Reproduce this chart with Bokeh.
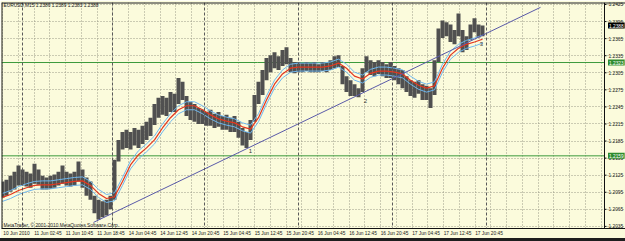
from bokeh.plotting import figure
from bokeh.models import Range1d, FixedTicker, Label, Span, Div
from bokeh.core.properties import value
from bokeh.layouts import column
from bokeh.embed import file_html
from bokeh.resources import INLINE

# ---- data (EURUSD M15, sampled every 4 bars) ----
highs = [1.2114, 1.2117, 1.2124, 1.2131, 1.2142, 1.2135, 1.2131, 1.2128, 1.2145, 1.2135,
         1.2124, 1.2121, 1.2124, 1.2126, 1.2131, 1.2142, 1.2131, 1.2128, 1.2131, 1.2149,
         1.2135, 1.2121, 1.2114, 1.2089, 1.2082, 1.2079, 1.2082, 1.2089, 1.2152, 1.2187,
         1.2201, 1.2205, 1.2201, 1.2208, 1.2205, 1.2212, 1.2219, 1.2226, 1.2250, 1.2261,
         1.2264, 1.2261, 1.2271, 1.2268, 1.2296, 1.2289, 1.2264, 1.2254, 1.2250, 1.2243,
         1.2240, 1.2236, 1.2240, 1.2233, 1.2236, 1.2229, 1.2231, 1.2226, 1.2229, 1.2219,
         1.2208, 1.2201, 1.2222, 1.2266, 1.2289, 1.2310, 1.2331, 1.2336, 1.2341, 1.2334,
         1.2345, 1.2350, 1.2331, 1.2324, 1.2324, 1.2322, 1.2324, 1.2322, 1.2324, 1.2320,
         1.2324, 1.2322, 1.2327, 1.2334, 1.2336, 1.2317, 1.2299, 1.2292, 1.2285, 1.2278,
         1.2313, 1.2334, 1.2327, 1.2324, 1.2327, 1.2324, 1.2320, 1.2324, 1.2317, 1.2313,
         1.2310, 1.2299, 1.2292, 1.2289, 1.2292, 1.2285, 1.2282, 1.2278, 1.2327, 1.2383,
         1.2397, 1.2394, 1.2390, 1.2380, 1.2409, 1.2380, 1.2369, 1.2390, 1.2401, 1.2390,
         1.2388]
lows = [1.2086, 1.2089, 1.2096, 1.2100, 1.2107, 1.2107, 1.2105, 1.2103, 1.2110, 1.2108,
        1.2100, 1.2100, 1.2101, 1.2103, 1.2107, 1.2110, 1.2107, 1.2105, 1.2107, 1.2114,
        1.2103, 1.2089, 1.2082, 1.2058, 1.2047, 1.2051, 1.2054, 1.2065, 1.2082, 1.2149,
        1.2170, 1.2173, 1.2170, 1.2177, 1.2173, 1.2180, 1.2187, 1.2194, 1.2213, 1.2226,
        1.2231, 1.2229, 1.2236, 1.2236, 1.2250, 1.2257, 1.2229, 1.2222, 1.2219, 1.2215,
        1.2215, 1.2212, 1.2212, 1.2208, 1.2210, 1.2205, 1.2205, 1.2201, 1.2201, 1.2191,
        1.2177, 1.2173, 1.2187, 1.2219, 1.2250, 1.2266, 1.2292, 1.2306, 1.2313, 1.2310,
        1.2317, 1.2320, 1.2306, 1.2304, 1.2306, 1.2306, 1.2308, 1.2306, 1.2306, 1.2306,
        1.2308, 1.2306, 1.2310, 1.2313, 1.2315, 1.2285, 1.2271, 1.2264, 1.2264, 1.2262,
        1.2271, 1.2306, 1.2301, 1.2299, 1.2303, 1.2299, 1.2296, 1.2296, 1.2292, 1.2285,
        1.2278, 1.2271, 1.2264, 1.2261, 1.2268, 1.2257, 1.2257, 1.2243, 1.2266, 1.2324,
        1.2366, 1.2369, 1.2359, 1.2355, 1.2369, 1.2341, 1.2345, 1.2362, 1.2376, 1.2367,
        1.2369]

# moving average (sampled every 8 bars) and its envelope lines
ma = [1.2086, 1.2091, 1.2098, 1.2103, 1.2107, 1.2108, 1.2108, 1.2110, 1.2112, 1.2114,
      1.2115, 1.2107, 1.2093, 1.2084, 1.2087, 1.2114, 1.2143, 1.2161, 1.2173, 1.2187,
      1.2208, 1.2226, 1.2240, 1.2247, 1.2247, 1.2240, 1.2231, 1.2224, 1.2220, 1.2217,
      1.2210, 1.2206, 1.2226, 1.2257, 1.2285, 1.2303, 1.2313, 1.2315, 1.2315, 1.2315,
      1.2315, 1.2317, 1.2322, 1.2313, 1.2299, 1.2294, 1.2304, 1.2308, 1.2308, 1.2306,
      1.2303, 1.2292, 1.2283, 1.2278, 1.2282, 1.2313, 1.2336, 1.2348, 1.2355, 1.2359,
      1.2364]
ma_upper = [1.2093, 1.2098, 1.2105, 1.2110, 1.2114, 1.2115, 1.2115, 1.2117, 1.2119, 1.2121,
            1.2122, 1.2114, 1.2100, 1.2091, 1.2094, 1.2121, 1.2150, 1.2168, 1.2180, 1.2194,
            1.2215, 1.2233, 1.2247, 1.2254, 1.2254, 1.2247, 1.2238, 1.2231, 1.2227, 1.2224,
            1.2217, 1.2213, 1.2233, 1.2264, 1.2292, 1.2310, 1.2320, 1.2322, 1.2322, 1.2322,
            1.2322, 1.2324, 1.2329, 1.2320, 1.2306, 1.2301, 1.2311, 1.2315, 1.2315, 1.2313,
            1.2310, 1.2299, 1.2290, 1.2285, 1.2289, 1.2320, 1.2343, 1.2355, 1.2362, 1.2366,
            1.2371]
ma_lower = [1.2079, 1.2084, 1.2091, 1.2096, 1.2100, 1.2101, 1.2101, 1.2103, 1.2105, 1.2107,
            1.2108, 1.2100, 1.2086, 1.2077, 1.2080, 1.2107, 1.2136, 1.2154, 1.2166, 1.2180,
            1.2201, 1.2219, 1.2233, 1.2240, 1.2240, 1.2233, 1.2224, 1.2217, 1.2213, 1.2210,
            1.2203, 1.2199, 1.2219, 1.2250, 1.2278, 1.2296, 1.2306, 1.2308, 1.2308, 1.2308,
            1.2308, 1.2310, 1.2315, 1.2306, 1.2292, 1.2287, 1.2297, 1.2301, 1.2301, 1.2299,
            1.2296, 1.2285, 1.2276, 1.2271, 1.2275, 1.2306, 1.2329, 1.2341, 1.2348, 1.2352,
            1.2357]

time_labels = ["10 Jun 2010", "11 Jun 02:45", "11 Jun 10:45", "11 Jun 18:45",
               "14 Jun 04:45", "14 Jun 12:45", "14 Jun 20:45", "15 Jun 04:45",
               "15 Jun 12:45", "15 Jun 20:45", "16 Jun 04:45", "16 Jun 12:45",
               "16 Jun 20:45", "17 Jun 04:45", "17 Jun 12:45", "17 Jun 20:45"]
price_ticks = [1.2035, 1.2065, 1.2095, 1.2125, 1.2155, 1.2185, 1.2215, 1.2245,
               1.2275, 1.2305, 1.2335, 1.2365, 1.2395, 1.2425]
day_starts = [20, 110, 202, 296, 390, 484]          # bar positions of day separators
trend_x = [91, 538]
trend_y = [1.2042, 1.2420]
levels = [1.2323, 1.2159]
level_labels = ["1.2323", "1.2159"]
point_x = [248, 363, 479]
point_y = [1.2167, 1.2256, 1.2356]
point_text = ["1", "2", "3"]
last_price = 1.2388
title_text = "EURUSD,M15  1.2386 1.2389 1.2383 1.2388"
copyright_text = "MetaTrader, \u00a9 2001-2010 MetaQuotes Software Corp."

STEP = 4          # bars per price sample
MA_STEP = 8
LABEL_EVERY = 31.5
GRID_EVERY = 15.75
SCALE_X = 602     # position of the price scale line (chart area ends here)
Y0, Y1 = 1.20313, 1.24285

BG = "#FBFBDC"
FONT = "Liberation Sans"
FS = "4.8px"
TXT = "#202020"

xs = [i * STEP for i in range(len(highs))]
ma_x = [i * MA_STEP for i in range(len(ma))]

# the frame covers the chart area and the price scale on its right
p = figure(width=625, height=238, output_backend="svg", toolbar_location=None,
           x_range=Range1d(-1, 623), y_range=Range1d(Y0, Y1),
           y_axis_location=None,
           min_border_left=1, min_border_top=2, min_border_right=0, min_border_bottom=9)
p.background_fill_color = BG
p.border_fill_color = BG
p.outline_line_color = None

# time axis
p.xaxis.ticker = FixedTicker(ticks=[LABEL_EVERY * k + 14 for k in range(len(time_labels))])
p.xaxis.major_label_overrides = {LABEL_EVERY * k + 14: t for k, t in enumerate(time_labels)}
p.xaxis.major_tick_out = 0
p.xaxis.major_tick_in = 0
p.xaxis.minor_tick_out = 0
p.xaxis.minor_tick_in = 0
p.xaxis.major_label_standoff = 2
p.xaxis.axis_line_color = "#101010"
p.xaxis.major_label_text_font = FONT
p.xaxis.major_label_text_font_size = FS
p.xaxis.major_label_text_color = TXT

# grid (limited to the chart area)
p.xgrid.ticker = FixedTicker(ticks=[GRID_EVERY * k for k in range(39)])
p.ygrid.ticker = FixedTicker(ticks=price_ticks)
p.ygrid.bounds = (-1, SCALE_X)
for g in (p.xgrid, p.ygrid):
    g.grid_line_color = "#9A9A88"
    g.grid_line_dash = "1 2"
    g.grid_line_width = 1

for d in day_starts:
    p.add_layout(Span(location=d, dimension="height", line_color="#5A5A5A",
                      line_dash="3 2", line_width=1))

# chart border: left, top and the price-scale line
p.add_layout(Span(location=-1, dimension="height", line_color="#202020", line_width=2))
p.add_layout(Span(location=Y1, dimension="width", line_color="#202020", line_width=2))
p.add_layout(Span(location=SCALE_X, dimension="height", line_color="#101010", line_width=1))

# price scale: ticks and labels
p.segment(x0=[SCALE_X] * len(price_ticks), x1=[SCALE_X + 2] * len(price_ticks),
          y0=price_ticks, y1=price_ticks, line_color="#101010", line_width=1)
p.text(x=[SCALE_X + 4] * len(price_ticks), y=price_ticks,
       text=[f"{t:.4f}" for t in price_ticks], text_font=value(FONT), text_font_size=FS,
       text_color=TXT, text_align="left", text_baseline="middle")

# horizontal levels
p.segment(x0=[-1] * len(levels), x1=[SCALE_X] * len(levels), y0=levels, y1=levels,
          line_color="#3C9A3C", line_width=1)

# price bars
p.vbar(x=xs, bottom=lows, top=highs, width=STEP, fill_color="#505050", line_color=None)

# indicators
p.line(ma_x, ma_upper, line_color="#6EB6EE", line_width=1)
p.line(ma_x, ma_lower, line_color="#6EB6EE", line_width=1)
p.line(ma_x, ma, line_color="#E4361E", line_width=1.2)

# trendline
p.line(trend_x, trend_y, line_color="#5A5AA8", line_width=1)

p.text(x=point_x, y=point_y, text=point_text, text_font=value(FONT), text_font_size="6px",
       text_color="#333333", text_align="center", text_baseline="middle")

# texts
p.add_layout(Label(x=1, y=1.2423, text=title_text, text_font=FONT, text_font_size=FS,
                   text_color=TXT, text_baseline="middle"))
p.add_layout(Label(x=1, y=1.2037, text=copyright_text, text_font=FONT, text_font_size=FS,
                   text_color=TXT, text_baseline="middle"))

# price boxes on the scale
for lv, t, c in [(levels[0], level_labels[0], "#2E8B2E"),
                 (levels[1], level_labels[1], "#2E8B2E"),
                 (last_price, f"{last_price:.4f}", "#000000")]:
    p.add_layout(Label(x=SCALE_X + 3.5, y=lv, text=t, text_font=FONT, text_font_size=FS,
                       text_color="white", text_baseline="middle",
                       background_fill_color=c, padding=1))

strip = Div(text="", width=625, height=3, margin=(0, 0, 0, 0),
            styles={"background-color": "#1E1E1E"})
layout = column(p, strip, spacing=0)

open("out.html", "w").write(file_html(layout, INLINE))
